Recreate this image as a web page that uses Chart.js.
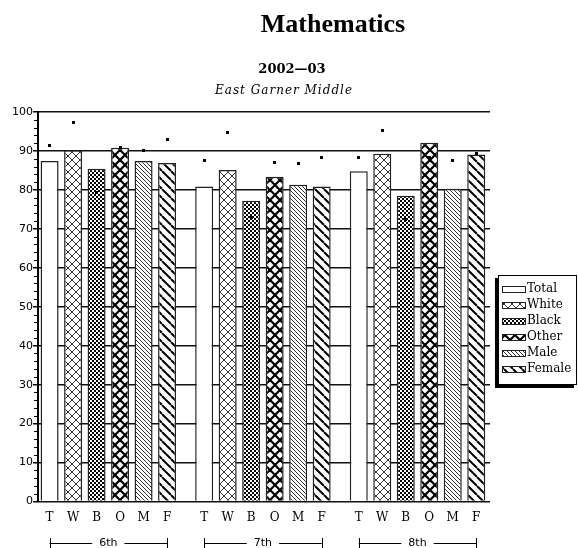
<!DOCTYPE html>
<html>
<head>
<meta charset="utf-8">
<script src="https://cdn.jsdelivr.net/npm/chart.js@4"></script>
<style>
    html, body { margin: 0; padding: 0; background: #fff; }
    #wrap { width: 578px; height: 548px; }
</style>
</head>
<body>
<div id="wrap"><canvas id="chartMath" width="578" height="548"></canvas></div>
<script>
const grades = ['6th', '7th', '8th'];
const groupNames = ['Total', 'White', 'Black', 'Other', 'Male', 'Female'];
const groupLetters = ['T', 'W', 'B', 'O', 'M', 'F'];

// school scores (bars)
const totalScores  = [87.4, 80.9, 84.8];
const whiteScores  = [90.2, 85.1, 89.3];
const blackScores  = [85.4, 77.2, 78.5];
const otherScores  = [90.8, 83.4, 92.1];
const maleScores   = [87.4, 81.3, 80.3];
const femaleScores = [86.9, 80.9, 89.1];

// comparison marks (small black squares)
const totalMarks  = [91.4, 87.5, 88.4];
const whiteMarks  = [97.3, 94.8, 95.2];
const blackMarks  = [79.4, 73.0, 72.4];
const otherMarks  = [91.0, 87.1, 88.4];
const maleMarks   = [90.2, 86.8, 87.5];
const femaleMarks = [92.9, 88.4, 89.3];

const yMin = 0, yMax = 100, yStep = 2, yLabelStep = 10;

// pattern tiles
function makeTile(size, draw) {
    const c = document.createElement('canvas');
    c.width = size; c.height = size;
    const t = c.getContext('2d');
    t.fillStyle = '#fff';
    t.fillRect(0, 0, size, size);
    draw(t, size);
    return c;
}

function crossTile(size, width, color) {
    return makeTile(size, (t, s) => {
        t.strokeStyle = color; t.lineWidth = width;
        for (let k = -s; k <= s; k += s) {
            t.beginPath(); t.moveTo(k, 0); t.lineTo(k + s, s); t.stroke();
            t.beginPath(); t.moveTo(k, s); t.lineTo(k + s, 0); t.stroke();
        }
    });
}

function slashTile(size, width, color) {
    return makeTile(size, (t, s) => {
        t.strokeStyle = color; t.lineWidth = width;
        for (let k = -s; k <= s; k += s) {
            t.beginPath(); t.moveTo(k, 0); t.lineTo(k + s, s); t.stroke();
        }
    });
}

const canvas = document.getElementById('chartMath');
const ctx = canvas.getContext('2d');

const fills = [
    '#ffffff',
    ctx.createPattern(crossTile(8, 1, '#333'), 'repeat'),
    ctx.createPattern(makeTile(4, (t) => {
        t.fillStyle = '#000';
        t.fillRect(0, 0, 2, 2);
        t.fillRect(2, 2, 2, 2);
    }), 'repeat'),
    ctx.createPattern(crossTile(10, 2.2, '#000'), 'repeat'),
    ctx.createPattern(slashTile(4, 1, '#333'), 'repeat'),
    ctx.createPattern(slashTile(9, 2, '#000'), 'repeat')
];

const scoreSets = [totalScores, whiteScores, blackScores, otherScores, maleScores, femaleScores];
const markSets = [totalMarks, whiteMarks, blackMarks, otherMarks, maleMarks, femaleMarks];

const datasets = groupNames.map((name, i) => ({
    label: name,
    data: scoreSets[i],
    marks: markSets[i],
    backgroundColor: fills[i],
    borderColor: '#222',
    borderWidth: 1.5
}));

const extras = {
    id: 'extras',
    afterDraw(chart) {
        const c = chart.ctx;
        const yScale = chart.scales.y;
        const area = chart.chartArea;
        c.save();

        // minor ticks
        c.strokeStyle = '#000';
        c.lineWidth = 1;
        for (let v = yMin + yStep; v < yMax; v += yStep) {
            if (v % yLabelStep === 0) continue;
            const y = Math.round(yScale.getPixelForValue(v)) + 0.5;
            c.beginPath(); c.moveTo(area.left - 4, y); c.lineTo(area.left, y); c.stroke();
        }

        // comparison marks
        c.fillStyle = '#000';
        chart.data.datasets.forEach((ds, i) => {
            chart.getDatasetMeta(i).data.forEach((bar, j) => {
                const y = yScale.getPixelForValue(ds.marks[j]);
                c.fillRect(Math.round(bar.x - 1.5), Math.round(y - 1.5), 3, 3);
            });
        });

        // bar letters
        c.font = '12px "DejaVu Serif"';
        c.textAlign = 'center';
        c.textBaseline = 'middle';
        chart.data.datasets.forEach((ds, i) => {
            chart.getDatasetMeta(i).data.forEach((bar) => {
                c.fillText(groupLetters[i], bar.x, 518);
            });
        });

        // grade brackets
        const first = chart.getDatasetMeta(0).data;
        const last = chart.getDatasetMeta(groupNames.length - 1).data;
        c.font = '11px "DejaVu Sans"';
        grades.forEach((g, j) => {
            const x1 = first[j].x, x2 = last[j].x;
            const mid = (x1 + x2) / 2;
            const w = c.measureText(g).width;
            c.fillText(g, mid, 543);
            c.beginPath();
            c.moveTo(x1, 543.5); c.lineTo(mid - w / 2 - 7, 543.5);
            c.moveTo(mid + w / 2 + 7, 543.5); c.lineTo(x2, 543.5);
            c.moveTo(Math.round(x1) + 0.5, 538); c.lineTo(Math.round(x1) + 0.5, 549);
            c.moveTo(Math.round(x2) + 0.5, 538); c.lineTo(Math.round(x2) + 0.5, 549);
            c.stroke();
        });

        // titles
        c.font = 'bold 26px "Liberation Serif"';
        c.fillText('Mathematics', 333, 25);
        c.font = 'bold 13px "DejaVu Serif"';
        c.fillText('2002\u201403', 292, 70);
        c.font = 'italic 12px "DejaVu Serif"';
        c.letterSpacing = '1px';
        c.fillText('East Garner Middle', 284, 91);
        c.letterSpacing = '0px';

        // legend
        const lx = 498, ly = 275, lw = 79, lh = 110;
        c.fillStyle = '#000';
        c.fillRect(lx - 3, ly + 3, lw, lh);
        c.fillStyle = '#fff';
        c.fillRect(lx, ly, lw, lh);
        c.strokeStyle = '#000';
        c.lineWidth = 1;
        c.strokeRect(lx + 0.5, ly + 0.5, lw - 1, lh - 1);
        c.font = '12px "DejaVu Serif"';
        c.textAlign = 'left';
        chart.data.datasets.forEach((ds, i) => {
            const y = 289 + i * 16;
            c.fillStyle = ds.backgroundColor;
            c.fillRect(503, y - 2, 22, 5);
            c.strokeStyle = '#222';
            c.strokeRect(502.5, y - 2.5, 23, 6);
            c.fillStyle = '#000';
            c.fillText(ds.label, 527, y);
        });
        c.restore();
    }
};

new Chart(ctx, {
    type: 'bar',
    data: { labels: grades, datasets: datasets },
    options: {
        responsive: false,
        animation: false,
        events: [],
        layout: { padding: { top: 112, right: 88, bottom: 46.5, left: 0 } },
        datasets: { bar: { categoryPercentage: 0.912, barPercentage: 0.766 } },
        plugins: {
            legend: { display: false },
            tooltip: { enabled: false }
        },
        scales: {
            x: {
                display: false,
                // first group sits close to the y axis, last one close to the right edge
                afterBuildTicks(scale) {
                    scale._startValue = -0.455;
                    scale._valueRange = 2.924;
                }
            },
            y: {
                min: yMin,
                max: yMax,
                afterFit(scale) { scale.width = 38; },
                border: { color: '#000', width: 2 },
                grid: {
                    lineWidth: 1.5,
                    tickLength: 5,
                    color: (c) => (c.tick && c.tick.value % yLabelStep === 0) ? '#111' : 'rgba(0,0,0,0)',
                    tickColor: (c) => (c.tick && c.tick.value % yLabelStep === 0) ? '#000' : 'rgba(0,0,0,0)'
                },
                ticks: {
                    stepSize: yStep,
                    autoSkip: false,
                    padding: 0,
                    color: '#000',
                    font: { family: 'DejaVu Sans', size: 11 },
                    callback: (v) => v % yLabelStep === 0 ? v : ''
                }
            }
        }
    },
    plugins: [extras]
});
</script>
</body>
</html>
